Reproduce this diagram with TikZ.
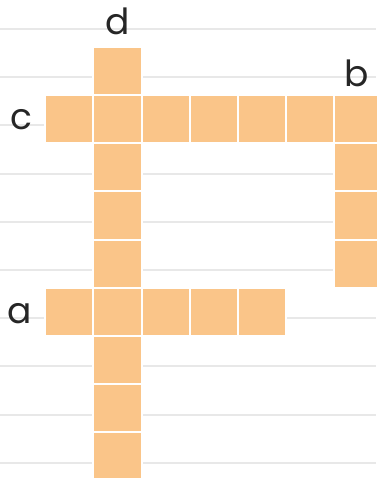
\documentclass[tikz,border=0pt]{standalone}
\usepackage{fontspec}
\setmainfont{Poppins}
\usepackage{xcolor}
\usetikzlibrary{positioning}
\definecolor{cellorange}{HTML}{FAC589}
\definecolor{rulegray}{HTML}{E8E8E8}

\begin{document}
\begin{tikzpicture}[
    x=1pt, y=-1pt,
    node distance=0pt,
    cell/.style={rectangle, fill=cellorange, draw=white, line width=2pt, minimum size=48.2pt, inner sep=0pt, outer sep=0pt},
    lbl/.style={font=\fontsize{36}{36}\selectfont, text=black!85, inner sep=0pt},
    rule/.style={draw=rulegray, line width=2pt}
]
\useasboundingbox (0,0) rectangle (376,478);

% Rules
\draw[rule] (0,29.0) -- (376,29.0);
\draw[rule] (0,77.2) -- (376,77.2);
\draw[rule] (0,125.4) -- (376,125.4);
\draw[rule] (0,173.6) -- (376,173.6);
\draw[rule] (0,221.8) -- (376,221.8);
\draw[rule] (0,270.0) -- (376,270.0);
\draw[rule] (0,318.2) -- (376,318.2);
\draw[rule] (0,366.4) -- (376,366.4);
\draw[rule] (0,414.6) -- (376,414.6);
\draw[rule] (0,462.8) -- (376,462.8);

% Column d
\node[cell] (d0) at (117.5,70.8) {};
\node[cell, below=of d0] (d1) {};
\node[cell, below=of d1] (d2) {};
\node[cell, below=of d2] (d3) {};
\node[cell, below=of d3] (d4) {};
\node[cell, below=of d4] (d5) {};
\node[cell, below=of d5] (d6) {};
\node[cell, below=of d6] (d7) {};
\node[cell, below=of d7] (d8) {};

% Row c
\node[cell, left=of d1] (c0) {};
\node[cell, right=of d1] (c2) {};
\node[cell, right=of c2] (c3) {};
\node[cell, right=of c3] (c4) {};
\node[cell, right=of c4] (c5) {};
\node[cell, right=of c5] (c6) {};

% Column b
\node[cell, below=of c6] (b2) {};
\node[cell, below=of b2] (b3) {};
\node[cell, below=of b3] (b4) {};

% Row a
\node[cell, left=of d5] (a0) {};
\node[cell, right=of d5] (a2) {};
\node[cell, right=of a2] (a3) {};
\node[cell, right=of a3] (a4) {};

% Labels
\node[lbl, above=11.7pt of d0, anchor=base] (labd) {d};
\node[lbl, above=8.4pt of c6, anchor=base, xshift=-1.5pt] (labb) {b};
\node[lbl, left=13pt of c0, anchor=base east, yshift=-11pt] (labc) {c};
\node[lbl, left=13pt of a0, anchor=base east, yshift=-11.2pt] (laba) {a};

\end{tikzpicture}
\end{document}
